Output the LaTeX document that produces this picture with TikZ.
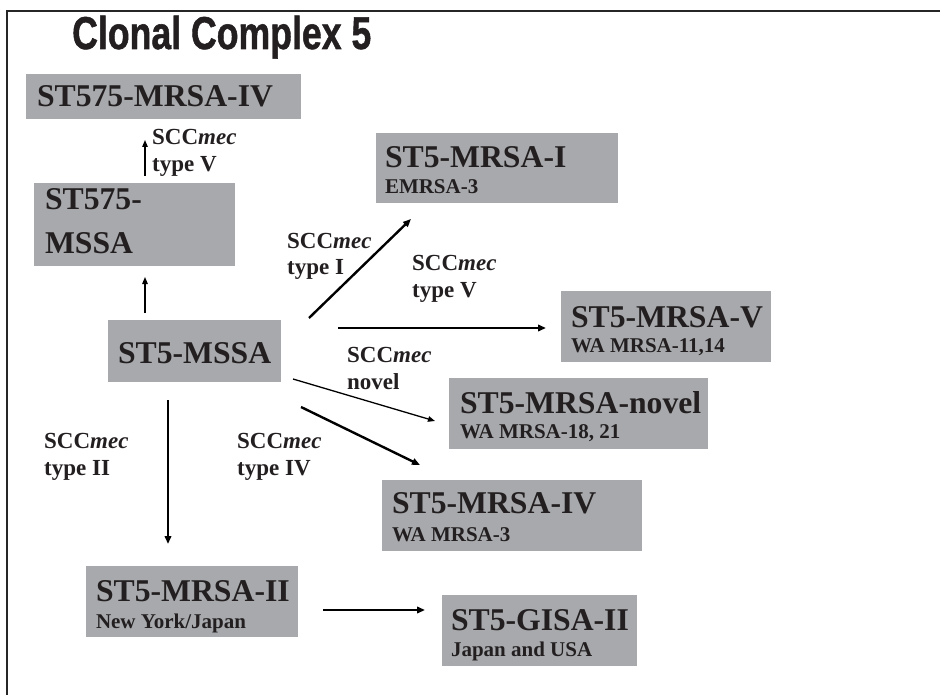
\documentclass[tikz,border=0pt]{standalone}
\usepackage{fontspec}
\setmainfont{Liberation Serif}
\newfontfamily\titlefont{Liberation Sans}[FakeBold=1.2]
\usetikzlibrary{arrows.meta}
\definecolor{boxgray}{HTML}{A7A9AC}
\definecolor{ink}{HTML}{231F20}
\newcommand\bigtxt{\fontsize{31.7}{32}\selectfont\bfseries}
\newcommand\subtxt{\fontsize{21}{22}\selectfont\bfseries}
\newcommand\lbltxt{\fontsize{23}{24}\selectfont\bfseries}
% #1 width, #2 height, #3 inset, #4 baseline 1, #5 line 1, #6 baseline 2, #7 line 2
\newcommand\boxlines[7]{\vbox to #2pt{\offinterlineskip\kern#4pt\hbox to #1pt{\hskip#3pt\smash{#5}\hss}\kern\dimexpr#6pt-#4pt\relax\hbox to #1pt{\hskip#3pt\smash{#7}\hss}\vss}}
\newcommand\twolbl[2]{\vbox{\offinterlineskip\hbox{\smash{\lbltxt #1}}\kern27pt\hbox{\smash{\lbltxt #2}}}}
\newcommand\scc{SCC\textit{mec}}
\begin{document}
\begin{tikzpicture}[x=1pt,y=-1pt,
  gbox/.style={fill=boxgray, inner sep=0pt, outer sep=0pt, anchor=north west, text=ink},
  lbl/.style={inner sep=0pt, anchor=base west, text=ink},
  arrthin/.style={line width=1.3pt, -{Triangle[length=7pt,width=5.5pt]}},
  arrthick/.style={line width=2.4pt, -{Triangle[length=8pt,width=6.5pt]}}]
\useasboundingbox (0,0) rectangle (940,695);
\fill[white] (0,0) rectangle (940,695);
% frame
\draw[line width=1.5pt, black!85] (7,695) -- (7,11) -- (940,11);
% title
\node[anchor=base west, inner sep=0pt, text=ink] (title) at (72,49)
  {\scalebox{0.775}[1]{\titlefont\bfseries\fontsize{46}{46}\selectfont Clonal Complex 5}};
% boxes
\node[gbox] (r4) at (26,74) {\boxlines{275}{45}{11}{33}{\bigtxt ST575-MRSA-IV}{33}{}};
\node[gbox] (m575) at (34,183) {\boxlines{201}{83}{11}{26}{\bigtxt ST575-}{70}{\bigtxt MSSA}};
\node[gbox] (mssa) at (108,320) {\boxlines{173}{62}{10}{43}{\bigtxt ST5-MSSA}{43}{}};
\node[gbox] (mI) at (376,133) {\boxlines{242}{70}{9}{35}{\bigtxt ST5-MRSA-I}{61}{\subtxt EMRSA-3}};
\node[gbox] (mV) at (561,291) {\boxlines{210}{71}{10}{36}{\bigtxt ST5-MRSA-V}{61}{\subtxt WA MRSA-11,14}};
\node[gbox] (mN) at (449,378) {\boxlines{259}{71}{11}{35}{\bigtxt ST5-MRSA-novel}{60}{\subtxt WA MRSA-18, 21}};
\node[gbox] (mIV) at (382,480) {\boxlines{260}{71}{10}{33}{\bigtxt ST5-MRSA-IV}{61}{\subtxt WA MRSA-3}};
\node[gbox] (mII) at (86,566) {\boxlines{212}{71}{10}{35}{\bigtxt ST5-MRSA-II}{62}{\subtxt New York/Japan}};
\node[gbox] (gisa) at (442,595) {\boxlines{195}{71}{9}{35}{\bigtxt ST5-GISA-II}{61}{\subtxt Japan and USA}};
% labels
\node[lbl] (lV1) at (152,172) {\twolbl{\scc}{type V}};
\node[lbl] (lI) at (287,275) {\twolbl{\scc}{type I}};
\node[lbl] (lV2) at (412,297) {\twolbl{\scc}{type V}};
\node[lbl] (lN) at (347,389) {\twolbl{\scc}{novel}};
\node[lbl] (lII) at (44,475) {\twolbl{\scc}{type II}};
\node[lbl] (lIV) at (237,475) {\twolbl{\scc}{type IV}};
% connectors
\draw[arrthin] ([shift={(111,-7)}]m575.north west) -- ([shift={(119,21)}]r4.south west);
\draw[arrthin] ([shift={(37,-7)}]mssa.north west) -- ([shift={(111,11)}]m575.south west);
\draw[arrthick] ([shift={(28,-2)}]mssa.north east) -- ([shift={(35,16)}]mI.south west);
\draw[arrthick] ([shift={(57,8)}]mssa.north east) -- ([shift={(-15,37)}]mV.north west);
\draw[arrthin] ([shift={(12,-3)}]mssa.south east) -- ([shift={(-14,43)}]mN.north west);
\draw[arrthick] ([shift={(20,25)}]mssa.south east) -- ([shift={(38,-15)}]mIV.north west);
\draw[arrthick] ([shift={(60,18)}]mssa.south west) -- ([shift={(82,-22)}]mII.north west);
\draw[arrthick] ([shift={(25,44)}]mII.north east) -- ([shift={(-17,15)}]gisa.north west);
\end{tikzpicture}
\end{document}
